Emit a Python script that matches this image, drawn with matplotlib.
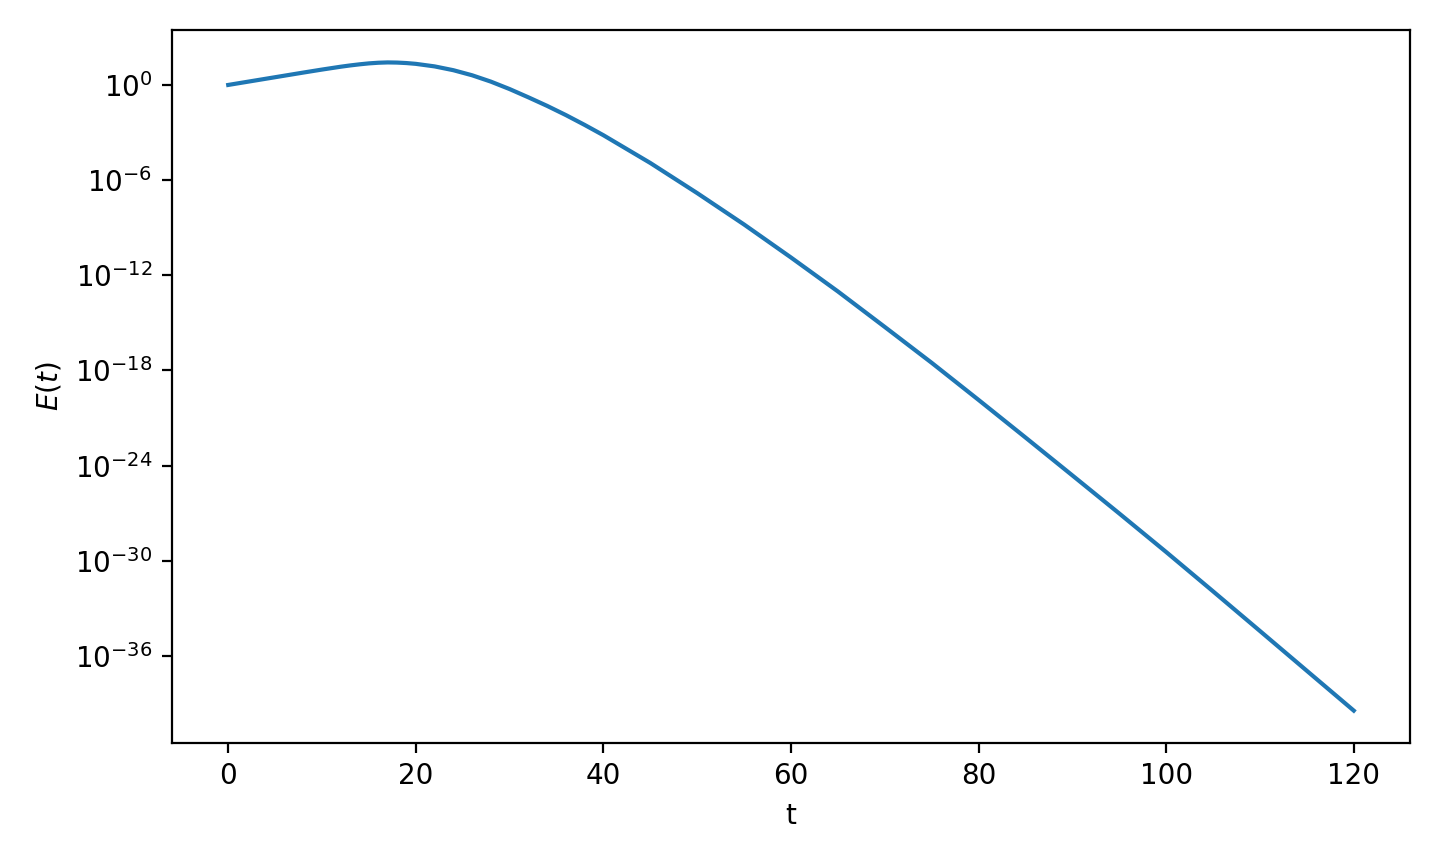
import numpy as np
import matplotlib
matplotlib.use("Agg")
import matplotlib.pyplot as plt
from matplotlib.ticker import NullLocator

# time samples and log10 of E(t)
t_values = [0, 4, 8, 10, 12, 13, 14, 15, 16, 17, 18, 19, 20, 22, 24, 26, 28, 30,
            32, 34, 36, 38, 40, 45, 50, 55, 60, 65, 70, 75, 80, 85, 90, 95, 100,
            105, 110, 115, 120]
log10_E = [0.0, 0.39, 0.78, 0.97, 1.15, 1.23, 1.30, 1.36, 1.40, 1.42, 1.41, 1.38,
           1.33, 1.17, 0.93, 0.61, 0.21, -0.26, -0.78, -1.32, -1.90, -2.52, -3.17,
           -4.92, -6.82, -8.80, -10.88, -13.02, -15.26, -17.52, -19.86, -22.23,
           -24.62, -27.02, -29.45, -31.93, -34.43, -36.94, -39.45]
y_tick_exponents = [0, -6, -12, -18, -24, -30, -36]

t = np.array(t_values)
E = 10.0 ** np.array(log10_E)

fig, ax = plt.subplots(figsize=(7.2, 4.3), dpi=200)
ax.semilogy(t, E)
ax.set_yticks([10.0 ** e for e in y_tick_exponents])
ax.yaxis.set_minor_locator(NullLocator())
ax.set_xlabel("t")
ax.set_ylabel("$E(t)$")
fig.subplots_adjust(left=0.1194, right=0.9792, top=0.9651, bottom=0.1360)
fig.savefig("out.png", dpi=200)
